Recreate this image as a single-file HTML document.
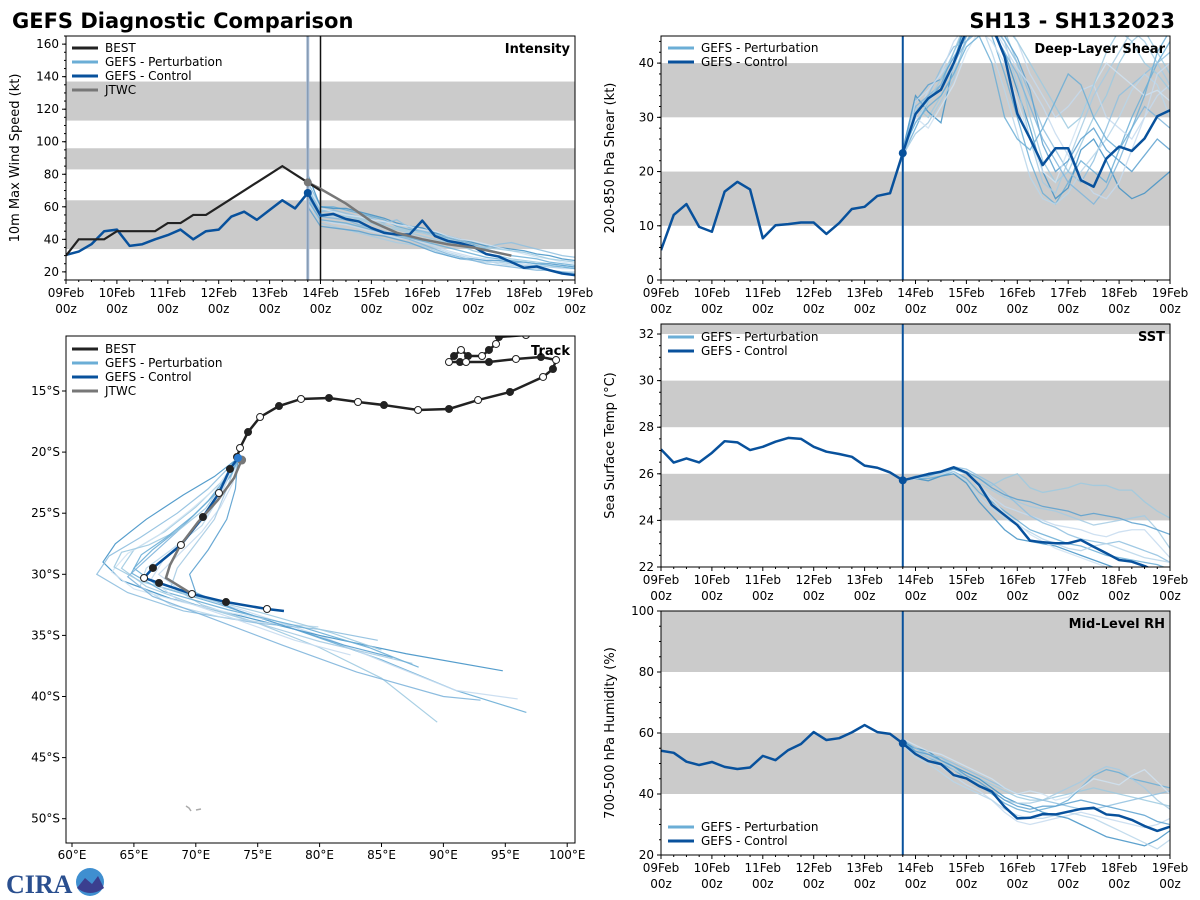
<!DOCTYPE html>
<html><head><meta charset="utf-8"><style>
html,body{margin:0;padding:0;background:#fff;}
svg{display:block;font-family:"DejaVu Sans","Liberation Sans",sans-serif;}
</style></head><body>
<svg id="c" width="1200" height="900" viewBox="0 0 1200 900" xmlns="http://www.w3.org/2000/svg">
<text x="12" y="28" font-size="21" font-weight="bold" fill="#000">GEFS Diagnostic Comparison</text>
<text x="1175" y="28" font-size="21" font-weight="bold" fill="#000" text-anchor="end">SH13 - SH132023</text>
<g>
<text x="6" y="893" font-size="26" font-weight="bold" fill="#2a4f8f" font-family="Liberation Serif,serif">CIRA</text>
<circle cx="90" cy="882" r="14" fill="#3f8fd0"/>
<path d="M77,888 L85,878 L92,884 L98,876 L104,888 Q90,898 77,888Z" fill="#3b3f8f"/>
</g>
</svg>
<script>
// ---------- DATA ----------
const dayLabels = ["09Feb","10Feb","11Feb","12Feb","13Feb","14Feb","15Feb","16Feb","17Feb","18Feb","19Feb"];
const bestIntensity = [30,40,40,40,45,45,45,45,50,50,55,55,60,65,70,75,80,85,80,75,70];
const ctrlIntensity = [30.4,32.5,37,45,46,36,37,40,42.6,46,40,45,46,54,57,52,58,64,59,68.5,54.6,55.6,52.5,51,47,44,43,43,51.5,42,39,37.6,35.5,31,29.4,26,22.5,23.3,21,19,18];
const jtwcIntensity = [[114,75],[120,71],[132,62],[144,51],[156,44],[168,40],[180,37],[192,35],[210,30]];
const pertIntensity = [
[70,58,57,55,52,50,47,46,44,42,40,38,36,33,31,30,28,27,26,25,24,23],
[75,60,60,58,56,54,52,48,46,45,43,41,39,37,34,32,30,29,28,26,25,24],
[62,52,50,49,47,45,43,41,40,38,36,33,31,29,28,27,26,25,24,23,22,22],
[80,60,59,59,57,55,53,50,48,47,44,42,40,38,36,35,34,33,31,30,28,27],
[65,50,48,46,44,42,40,38,37,36,33,30,28,27,26,26,25,24,24,23,23,22],
[72,57,58,56,54,53,50,52,47,45,43,40,37,36,35,37,38,36,34,32,30,29],
[68,55,54,53,50,46,44,44,43,40,35,32,30,28,27,25,24,23,22,21,20,20],
[60,48,47,46,45,43,42,40,38,35,32,30,28,28,27,27,26,26,25,25,24,23],
[74,59,57,55,54,52,51,49,48,46,45,42,40,39,37,35,33,31,29,28,26,25],
[66,54,53,52,49,47,45,42,40,37,34,31,29,27,25,24,23,22,21,21,20,19],
[70,56,55,54,53,51,49,47,45,44,42,40,38,36,35,34,33,32,30,28,27,26],
[64,52,51,50,48,46,44,43,41,39,37,35,33,31,29,28,27,26,25,24,23,22]];
const intensityBands = [[34,64],[83,96],[113,137]];

const ctrlShear = [5.5,12,14,9.8,8.9,16.3,18.1,16.7,7.7,10.1,10.3,10.6,10.6,8.5,10.5,13.1,13.5,15.5,16,23.4,30.6,33.5,35.1,40,46,48,47,41.2,30.7,26.1,21.2,24.3,24.3,18.4,17.2,22.4,24.6,23.8,26.1,30.2,31.3];
const pertShear = [
[24,32,30,34,38,44,48,50,46,40,30,22,18,20,25,30,34,40,44,46,42,38],
[23,28,33,36,42,47,49,45,38,30,22,16,14,18,22,20,18,24,30,35,40,44],
[22,30,35,38,41,46,47,50,48,44,38,34,30,32,35,36,30,28,26,30,34,36],
[24,34,31,29,40,48,50,46,42,35,28,20,15,17,24,26,22,17,15,16,18,20],
[23,27,29,33,37,45,49,48,44,36,26,18,16,22,28,34,38,42,46,44,40,36],
[22,31,34,39,43,44,46,47,44,40,34,28,24,20,18,22,28,34,36,38,40,42],
[24,29,33,35,39,46,48,42,35,27,19,15,14,16,20,23,26,30,35,38,36,30],
[23,33,36,37,41,45,47,49,45,41,35,25,20,22,26,28,24,22,20,23,26,24],
[23,30,28,32,36,42,46,44,40,33,26,20,18,24,30,36,40,38,36,34,35,33],
[24,32,34,36,40,44,47,46,42,38,32,26,22,18,16,14,17,22,28,32,30,28],
[23,31,33,37,42,48,50,49,47,44,40,36,32,28,30,36,42,46,44,40,38,35],
[24,29,32,34,38,43,45,40,30,26,24,28,33,38,36,30,26,24,28,34,42,46],
[22,33,35,38,44,47,48,47,43,39,36,32,27,23,19,16,15,18,24,30,38,40]];
const shearBands = [[10,20],[30,40]];

const ctrlSST = [27.05,26.48,26.66,26.49,26.9,27.4,27.35,27.02,27.16,27.38,27.54,27.5,27.16,26.95,26.85,26.73,26.35,26.26,26.06,25.72,25.85,25.99,26.09,26.28,26.05,25.52,24.66,24.23,23.8,23.13,23.06,23.02,23.02,23.16,22.87,22.59,22.3,22.23,22.04,21.8,21.6];
const pertSST = [
[25.7,25.8,25.9,26.0,26.2,26.0,25.8,25.5,25.8,26.0,25.4,25.2,25.3,25.4,25.6,25.5,25.5,25.3,25.3,24.8,24.4,24.1],
[25.7,25.8,25.8,25.9,26.1,25.8,25.2,24.8,24.4,24.0,23.6,23.4,23.2,23.0,22.9,22.7,22.5,22.4,22.3,22.2,22.1,21.9],
[25.7,25.9,26.0,26.1,26.2,26.1,25.5,25.0,24.6,24.4,24.2,24.0,23.8,23.7,23.6,23.4,23.3,23.5,23.6,23.6,23.0,22.4],
[25.7,25.8,25.7,25.9,26.0,25.6,24.8,24.2,23.6,23.2,23.1,23.0,22.9,22.7,22.5,22.3,22.1,21.9,21.8,21.7,21.6,21.5],
[25.7,25.9,26.0,26.0,26.2,26.0,25.6,25.3,25.0,24.8,24.6,24.5,24.4,24.2,24.0,23.8,23.9,24.0,24.1,24.2,23.6,22.8],
[25.7,25.8,25.9,26.1,26.3,26.2,25.9,25.6,25.2,24.7,24.2,23.9,23.7,23.4,23.2,23.1,23.0,23.1,22.9,22.7,22.5,22.2],
[25.7,25.8,25.9,26.0,26.1,25.7,25.0,24.5,24.1,23.8,23.5,23.2,23.0,22.8,22.7,22.9,23.0,22.8,22.6,22.4,22.3,22.2],
[25.7,25.9,25.9,26.1,26.2,26.1,25.8,25.4,25.1,24.9,24.8,24.6,24.5,24.4,24.2,24.3,24.2,24.1,23.9,23.8,23.6,23.4],
[25.7,25.8,26.0,26.1,26.3,26.1,25.4,24.9,24.3,23.9,23.4,23.1,22.8,22.6,22.4,22.2,22.0,21.9,21.8,21.7,21.6,21.5]];
const sstBands = [[24,26],[28,30],[32,34]];

const ctrlRH = [54.2,53.5,50.6,49.5,50.5,48.9,48.2,48.7,52.5,51.1,54.4,56.4,60.3,57.7,58.3,60.2,62.6,60.3,59.7,56.6,53.1,50.8,49.8,46.2,45.1,42.6,40.8,35.8,32,32.2,33.4,33.3,34.2,35.1,35.5,33.3,32.9,31.5,29.5,27.9,29.3];
const pertRH = [
[57,55,53,52,49,47,45,43,41,39,38,38,39,40,41,42,41,40,39,38,37,36],
[58,54,52,50,48,45,43,40,37,35,34,35,36,38,42,46,48,47,45,44,43,42],
[56,53,51,49,46,43,41,38,34,31,30,31,32,33,34,33,32,31,30,29,30,32],
[57,55,54,51,49,47,45,42,39,37,36,34,33,32,30,28,26,25,24,23,25,28],
[57,54,52,51,48,46,43,41,38,37,37,38,40,42,44,47,49,48,45,42,38,35],
[58,55,53,52,50,48,46,44,42,40,39,38,37,36,35,35,36,37,38,39,40,41],
[56,52,50,47,44,42,40,38,35,33,32,32,33,34,33,32,30,28,26,24,22,25],
[57,54,53,51,49,46,44,41,38,36,35,36,36,37,38,37,36,35,34,33,31,30],
[58,56,54,53,51,49,47,45,42,40,41,40,38,39,42,45,44,43,46,48,44,40]];
const rhBands = [[40,60],[80,100]];

const bestTrack = [[97.8,-10.34],[96.67,-10.42],[94.49,-10.58],[94.25,-11.15],[93.68,-11.64],[93.12,-12.14],[91.99,-12.14],[91.42,-11.64],[90.86,-12.14],[90.45,-12.63],[91.34,-12.63],[91.83,-12.63],[93.68,-12.63],[95.86,-12.38],[97.88,-12.22],[99.1,-12.46],[98.85,-13.2],[98.05,-13.85],[95.38,-15.08],[92.8,-15.74],[90.45,-16.47],[87.95,-16.55],[85.2,-16.15],[83.1,-15.9],[80.76,-15.57],[78.5,-15.65],[76.72,-16.23],[75.19,-17.13],[74.22,-18.36],[73.57,-19.66],[73.33,-20.4]];
const ctrlTrack = [[73.41,-20.48],[72.76,-21.38],[71.87,-23.35],[70.58,-25.31],[68.8,-27.6],[66.54,-29.48],[65.82,-30.3],[67.03,-30.71],[69.69,-31.61],[72.44,-32.27],[75.75,-32.84],[77.12,-33.0]];
const jtwcTrack = [[73.7,-20.65],[73.09,-22.12],[71.79,-23.92],[70.18,-25.72],[68.72,-27.68],[67.92,-29.23],[67.59,-30.3],[69.69,-31.61]];
const pertTracks = [
[[73.4,-20.5],[72.0,-22.5],[70.0,-24.5],[67.5,-26.5],[65.0,-28.0],[64.0,-29.5],[66.0,-31.0],[70.0,-32.5],[75.0,-34.0],[80.0,-36.0],[85.0,-38.5],[89.5,-42.1]],
[[73.4,-20.5],[72.5,-22.0],[71.0,-24.0],[69.0,-26.0],[66.5,-28.0],[65.0,-29.5],[67.0,-31.0],[72.0,-32.5],[78.0,-34.5],[85.0,-37.0],[91.0,-39.5],[96.7,-41.3]],
[[73.4,-20.5],[73.0,-22.5],[72.0,-24.5],[70.5,-26.5],[68.5,-28.5],[67.0,-30.0],[69.0,-31.5],[74.0,-33.0],[80.0,-35.0],[86.0,-37.5],[91.0,-39.5],[96.0,-40.2]],
[[73.4,-20.5],[71.5,-22.0],[69.0,-23.5],[66.0,-25.5],[63.5,-27.5],[62.5,-29.0],[64.0,-30.5],[68.0,-32.0],[74.0,-33.5],[80.0,-35.0],[87.0,-36.5],[94.8,-37.9]],
[[73.4,-20.5],[72.5,-23.0],[71.5,-25.5],[70.0,-27.5],[68.5,-29.5],[68.0,-31.0],[70.5,-32.5],[75.0,-34.0],[80.0,-35.5],[87.5,-37.3]],
[[73.4,-20.5],[71.0,-23.0],[68.5,-25.0],[65.5,-27.0],[63.0,-28.5],[62.0,-30.0],[64.5,-31.5],[69.0,-33.0],[75.0,-34.0],[80.0,-34.5],[84.7,-35.4]],
[[73.4,-20.5],[72.0,-23.5],[70.5,-26.0],[68.0,-28.0],[66.0,-29.5],[65.5,-31.0],[68.0,-32.5],[72.0,-33.5],[76.0,-34.0],[79.9,-34.3]],
[[73.4,-20.5],[73.2,-23.0],[72.5,-25.5],[71.0,-28.0],[69.5,-30.0],[70.0,-31.5],[73.5,-33.0],[78.0,-34.5],[82.0,-35.8],[85.9,-36.8]],
[[73.4,-20.5],[71.8,-22.8],[69.5,-24.8],[67.0,-26.8],[64.5,-28.3],[63.2,-29.8],[65.0,-31.2],[69.0,-32.3],[73.0,-33.2],[76.5,-33.8]],
[[73.4,-20.5],[72.8,-22.0],[71.0,-24.0],[68.5,-26.5],[66.0,-28.8],[64.5,-30.2],[66.5,-31.8],[71.0,-33.5],[77.0,-35.8],[83.0,-38.0],[90.0,-40.0],[93.0,-40.3]],
[[73.2,-20.6],[72.3,-22.4],[70.8,-24.6],[68.6,-26.4],[66.2,-27.6],[64.0,-28.2],[63.4,-29.4],[65.6,-30.6],[70.0,-31.8],[75.5,-33.2],[81.0,-34.8],[85.0,-36.2]],
[[73.5,-20.4],[72.9,-21.8],[71.6,-23.4],[69.8,-25.2],[67.6,-27.0],[65.6,-28.4],[64.8,-29.9],[67.4,-31.4],[72.6,-32.9],[78.5,-34.3],[84.0,-36.0],[88.0,-37.6]],
[[73.3,-20.5],[72.2,-23.0],[70.9,-25.2],[69.2,-27.0],[67.4,-28.8],[66.4,-30.4],[68.4,-32.0],[73.0,-33.6],[78.0,-35.4],[82.5,-36.6]]];
const lonTicks = [60,65,70,75,80,85,90,95,100];
const latTicks = [-15,-20,-25,-30,-35,-40,-45,-50];

// ---------- DRAWING ----------
const NS = "http://www.w3.org/2000/svg";
const svg = document.getElementById("c");
const CTRL = "#08519c", PERT = "#6baed6", BAND = "#cbcbcb";
const pertColors = ["#9ecae1","#6baed6","#c6dbef","#4292c6","#a6cbe3","#8fbfdf","#b8d6ea","#5aa0cf","#d0e3f2","#7fb5db"];
function mk(tag, attrs, parent){const e=document.createElementNS(NS,tag);for(const k in attrs)e.setAttribute(k,attrs[k]);(parent||svg).appendChild(e);return e;}
function txt(x,y,s,attrs,parent){const t=mk("text",Object.assign({x:x,y:y,"font-size":12,fill:"#000"},attrs||{}),parent);t.textContent=s;return t;}

function timePanel(name, box, ymin, ymax, yticks, yminor, ylabel, title, bands, ctrl, perts, vline){
  const g = mk("g",{});
  
  
  const X = h => box.x0 + (h/240)*(box.x1-box.x0);
  const Y = v => box.y1 - (v-ymin)/(ymax-ymin)*(box.y1-box.y0);
  const cid = name+"-clip";
  const cp = mk("clipPath",{id:cid},g); mk("rect",{x:box.x0,y:box.y0,width:box.x1-box.x0,height:box.y1-box.y0},cp);
  const inner = mk("g",{"clip-path":"url(#"+cid+")"},g);
  bands.forEach(b=>{
    const r = mk("rect",{x:box.x0,y:Y(Math.min(b[1],ymax)),width:box.x1-box.x0,height:Y(b[0])-Y(Math.min(b[1],ymax)),fill:BAND},inner);
    
    
  });
  const start = 114;
  perts.forEach((m,i)=>{
    const pl = mk("polyline",{points:m.map((v,j)=>X(start+6*j)+","+Y(v)).join(" "),fill:"none",stroke:pertColors[i%pertColors.length],"stroke-width":1.3,opacity:0.85},inner);
    
    
  });
  if(vline){
    vline.forEach(v=>{
      const l = mk("line",{x1:X(v.h),x2:X(v.h),y1:box.y0,y2:box.y1,stroke:v.c,"stroke-width":v.w},inner);
      
      
    });
  }
  const cl = mk("polyline",{points:ctrl.map((v,j)=>X(6*j)+","+Y(v)).join(" "),fill:"none",stroke:CTRL,"stroke-width":2.5,"stroke-linejoin":"round"},inner);
  
  
  const dot = mk("circle",{cx:X(114),cy:Y(ctrl[19]),r:4,fill:CTRL},inner);
  
  
  mk("rect",{x:box.x0,y:box.y0,width:box.x1-box.x0,height:box.y1-box.y0,fill:"none",stroke:"#000","stroke-width":1},g);
  yticks.forEach(v=>{
    mk("line",{x1:box.x0-4,x2:box.x0,y1:Y(v),y2:Y(v),stroke:"#000"},g);
    const t = txt(box.x0-7,Y(v)+4,String(v),{"text-anchor":"end"},g);
    
    
  });
  for(let v=yminor[0]; v<=ymax; v+=yminor[1]) mk("line",{x1:box.x0-2,x2:box.x0,y1:Y(v),y2:Y(v),stroke:"#000"},g);
  for(let h=0; h<=240; h+=6) mk("line",{x1:X(h),x2:X(h),y1:box.y1,y2:box.y1+(h%24==0?4:2),stroke:"#000"},g);
  dayLabels.forEach((d,i)=>{
    const t1 = txt(X(24*i),box.y1+17,d,{"text-anchor":"middle"},g);
    
    
    const t2 = txt(X(24*i),box.y1+33,"00z",{"text-anchor":"middle"},g);
    
    
  });
  const cy=(box.y0+box.y1)/2, lx=box.x0-47;
  const yl = txt(lx,cy,ylabel,{"text-anchor":"middle","font-size":13,transform:"rotate(-90 "+lx+" "+cy+")"},g);
  
  
  const tt = txt(box.x1-5,box.y0+17,title,{"text-anchor":"end","font-size":13,"font-weight":"bold"},g);
  
  
  return {g,X,Y,inner};
}
function legend(g,x,y,items){
  items.forEach((it,i)=>{
    const lg = mk("g",{},g);
    
    
    mk("line",{x1:x,x2:x+26,y1:y+14*i,y2:y+14*i,stroke:it.c,"stroke-width":3},lg);
    txt(x+33,y+14*i+4,it.t,{"font-size":12},lg);
  });
}

const P1 = timePanel("intensity",{x0:66,x1:575,y0:36,y1:280},15,165,[20,40,60,80,100,120,140,160],[15,5],"10m Max Wind Speed (kt)","Intensity",intensityBands,ctrlIntensity,pertIntensity,
  [{h:114,c:"#a9bdd6",w:3},{h:114,c:"#7b8fa8",w:1},{h:120,c:"#111",w:1.5}]);
const jl = mk("polyline",{points:jtwcIntensity.map(p=>P1.X(p[0])+","+P1.Y(p[1])).join(" "),fill:"none",stroke:"#777","stroke-width":2.5},P1.inner);


const bl = mk("polyline",{points:bestIntensity.map((v,j)=>P1.X(6*j)+","+P1.Y(v)).join(" "),fill:"none",stroke:"#222","stroke-width":2.2},P1.inner);


const jd = mk("circle",{cx:P1.X(jtwcIntensity[0][0]),cy:P1.Y(jtwcIntensity[0][1]),r:4,fill:"#777"},P1.inner);


legend(P1.g,72,48,[{c:"#222",t:"BEST"},{c:PERT,t:"GEFS - Perturbation"},{c:CTRL,t:"GEFS - Control"},{c:"#777",t:"JTWC"}]);

const VL = [{h:114,c:CTRL,w:2}];
const P2 = timePanel("shear",{x0:661,x1:1170,y0:36,y1:280},0,45,[0,10,20,30,40],[0,2],"200-850 hPa Shear (kt)","Deep-Layer Shear",shearBands,ctrlShear,pertShear,VL);
legend(P2.g,668,48,[{c:PERT,t:"GEFS - Perturbation"},{c:CTRL,t:"GEFS - Control"}]);
const P3 = timePanel("sst",{x0:661,x1:1170,y0:324,y1:567},22,32.43,[22,24,26,28,30,32],[22,0.5],"Sea Surface Temp (°C)","SST",sstBands,ctrlSST,pertSST,VL);
legend(P3.g,668,337,[{c:PERT,t:"GEFS - Perturbation"},{c:CTRL,t:"GEFS - Control"}]);
const P4 = timePanel("rh",{x0:661,x1:1170,y0:611,y1:855},20,100,[20,40,60,80,100],[20,5],"700-500 hPa Humidity (%)","Mid-Level RH",rhBands,ctrlRH,pertRH,VL);
legend(P4.g,668,827,[{c:PERT,t:"GEFS - Perturbation"},{c:CTRL,t:"GEFS - Control"}]);

(function(){
  const box={x0:66,x1:575,y0:336,y1:843};
  const g = mk("g",{});
  
  
  const LX = lon => 72 + (lon-60)*12.38;
  const LY = lat => 391 + (-15-lat)*12.22;
  const cp = mk("clipPath",{id:"trk-clip"},g); mk("rect",{x:box.x0,y:box.y0,width:box.x1-box.x0,height:box.y1-box.y0},cp);
  const inner = mk("g",{"clip-path":"url(#trk-clip)"},g);
  const isl = mk("path",{d:"M186,806 l3,2 l2,3 M196,810 l5,-1",stroke:"#aaa","stroke-width":1.5,fill:"none"},inner);
  
  
  const pts = a => a.map(p=>LX(p[0])+","+LY(p[1])).join(" ");
  pertTracks.forEach((t,i)=>{
    const pl = mk("polyline",{points:pts(t),fill:"none",stroke:pertColors[i%pertColors.length],"stroke-width":1.2,opacity:0.9},inner);
    
    
  });
  const bt = mk("polyline",{points:pts(bestTrack),fill:"none",stroke:"#222","stroke-width":2.5},inner);
  
  
  const ct = mk("polyline",{points:pts(ctrlTrack),fill:"none",stroke:CTRL,"stroke-width":2.5},inner);
  
  
  const jt = mk("polyline",{points:pts(jtwcTrack),fill:"none",stroke:"#777","stroke-width":2.5},inner);
  
  
  bestTrack.forEach((p,i)=>{ if(i>0){
    const c = mk("circle",{cx:LX(p[0]),cy:LY(p[1]),r:3.5,fill:(i%2==0)?"#222":"#fff",stroke:"#222","stroke-width":1},inner);
    
    
  }});
  ctrlTrack.forEach((p,i)=>{ if(i>0 && i<11){
    const c = mk("circle",{cx:LX(p[0]),cy:LY(p[1]),r:3.5,fill:(i%2==1)?"#222":"#fff",stroke:"#222","stroke-width":1},inner);
    
    
  }});
  const jd2 = mk("circle",{cx:LX(jtwcTrack[0][0]),cy:LY(jtwcTrack[0][1]),r:4.5,fill:"#777"},inner);
  
  
  const cd2 = mk("circle",{cx:LX(ctrlTrack[0][0]),cy:LY(ctrlTrack[0][1]),r:4,fill:"#2b7bd0"},inner);
  
  
  mk("rect",{x:box.x0,y:box.y0,width:box.x1-box.x0,height:box.y1-box.y0,fill:"none",stroke:"#000"},g);
  lonTicks.forEach(l=>{
    mk("line",{x1:LX(l),x2:LX(l),y1:box.y1,y2:box.y1+4,stroke:"#000"},g);
    const t = txt(LX(l),box.y1+16,l+"°E",{"text-anchor":"middle"},g);
    
    
  });
  latTicks.forEach(l=>{
    mk("line",{x1:box.x0-4,x2:box.x0,y1:LY(l),y2:LY(l),stroke:"#000"},g);
    const t = txt(box.x0-6,LY(l)+4,(-l)+"°S",{"text-anchor":"end"},g);
    
    
  });
  const tt = txt(box.x1-5,box.y0+19,"Track",{"text-anchor":"end","font-size":13,"font-weight":"bold"},g);
  
  
  legend(g,72,349,[{c:"#222",t:"BEST"},{c:PERT,t:"GEFS - Perturbation"},{c:CTRL,t:"GEFS - Control"},{c:"#777",t:"JTWC"}]);
})();
</script>
</body></html>
